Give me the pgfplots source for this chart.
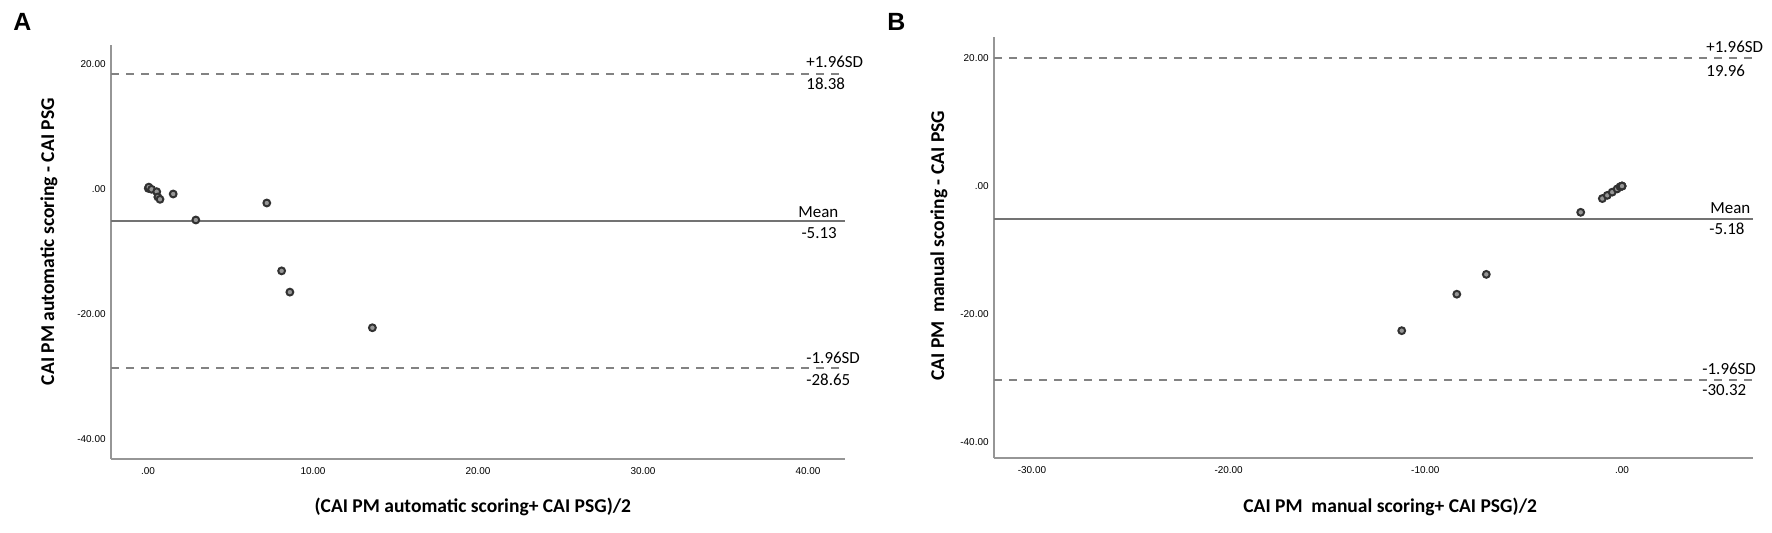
\documentclass[border=0pt]{standalone}
\usepackage{pgfplots}
\pgfplotsset{compat=1.18}
\usepackage{fontspec}
\setmainfont{Carlito}
\newfontfamily\arialfont{Liberation Sans}
\definecolor{axgray}{RGB}{150,150,150}
\definecolor{linegray}{RGB}{115,115,115}
\definecolor{dashgray}{RGB}{130,130,130}
\definecolor{markedge}{RGB}{50,50,50}
\definecolor{markfill}{RGB}{150,150,150}
\pgfplotsset{
 baplot/.style={
  scale only axis, axis lines*=left, clip=false,
  axis line style={axgray, line width=1bp},
  major tick length=0pt,
  tick label style={font=\arialfont\fontsize{5}{6}\selectfont, inner sep=0pt},
  yticklabel style={xshift=-2.5bp},
  xticklabel style={yshift=-4bp},
  label style={font=\bfseries\fontsize{9.8}{12}\selectfont},
  ytick={-40,-20,0,20}, yticklabels={-40.00,-20.00,.00,20.00},
 },
 pts/.style={only marks, mark=*, mark size=1.7bp, mark options={draw=markedge, fill=markfill, line width=1bp}},
 meanline/.style={linegray, line width=1.1bp, no marks},
 sdline/.style={dashgray, line width=1bp, dash pattern=on 4bp off 3.5bp, no marks},
}
\tikzset{ann/.style={font=\fontsize{8.5}{10}\selectfont, inner sep=0pt}}
\begin{document}
\begin{tikzpicture}
\path[use as bounding box] (0,0) rectangle (886bp,266.5bp);
% Panel A
\begin{axis}[baplot, at={(55.5bp,37bp)}, anchor=south west, width=367bp, height=207bp,
  xmin=-2.24, xmax=42.24, ymin=-43.2, ymax=23.04,
  xtick={0,10,20,30,40}, xticklabels={.00,10.00,20.00,30.00,40.00},
  xlabel={(CAI PM automatic scoring+ CAI PSG)/2},
  ylabel={CAI PM automatic scoring - CAI PSG},
  xlabel style={at={(axis description cs:0.493,-0.116)}, anchor=center},
  ylabel style={at={(axis description cs:-0.0845,0.525)}, anchor=center},
]
\addplot[sdline] coordinates {(-2.24,18.38) (42.24,18.38)};
\addplot[meanline] coordinates {(-2.24,-5.13) (42.24,-5.13)};
\addplot[sdline] coordinates {(-2.24,-28.65) (42.24,-28.65)};
\addplot[pts] coordinates {
 (0.02,0.1) (0.05,0.3) (0.22,-0.05) (0.53,-0.43) (0.6,-1.28) (0.73,-1.65)
 (1.53,-0.8) (2.9,-4.96) (7.2,-2.24) (8.1,-13.1) (8.6,-16.5) (13.6,-22.2)};
\node[ann, anchor=base west, yshift=3.3bp] at (axis cs:39.88,18.38) {+1.96SD};
\node[ann, anchor=north west, yshift=-1.5bp] at (axis cs:39.88,18.38) {18.38};
\node[ann, anchor=base west, yshift=2bp] at (axis cs:39.39,-5.13) {Mean};
\node[ann, anchor=north west, yshift=-3bp] at (axis cs:39.58,-5.13) {-5.13};
\node[ann, anchor=base west, yshift=2.5bp] at (axis cs:39.88,-28.65) {-1.96SD};
\node[ann, anchor=north west, yshift=-2.5bp] at (axis cs:39.88,-28.65) {-28.65};
\end{axis}
% Panel B
\begin{axis}[baplot, at={(497bp,37.5bp)}, anchor=south west, width=379.5bp, height=210.5bp,
  xmin=-31.93, xmax=6.66, ymin=-42.5, ymax=23.3,
  xtick={-30,-20,-10,0}, xticklabels={-30.00,-20.00,-10.00,.00},
  xlabel={CAI PM~ manual scoring+ CAI PSG)/2},
  ylabel={CAI PM~ manual scoring - CAI PSG},
  xlabel style={at={(axis description cs:0.522,-0.116)}, anchor=center},
  ylabel style={at={(axis description cs:-0.0725,0.504)}, anchor=center},
]
\addplot[sdline] coordinates {(-31.93,19.96) (6.66,19.96)};
\addplot[meanline] coordinates {(-31.93,-5.18) (6.66,-5.18)};
\addplot[sdline] coordinates {(-31.93,-30.32) (6.66,-30.32)};
\addplot[pts] coordinates {
 (-2.1,-4.1) (-1.0,-1.95) (-0.75,-1.45) (-0.5,-0.95) (-0.25,-0.45) (-0.1,-0.1)
 (0,0) (0,0) (0,0) (-6.9,-13.8) (-8.4,-16.9) (-11.2,-22.6)};
\node[ann, anchor=base west, yshift=3bp] at (axis cs:4.27,19.96) {+1.96SD};
\node[ann, anchor=north west, yshift=-3bp] at (axis cs:4.27,19.96) {19.96};
\node[ann, anchor=base west, yshift=2.8bp] at (axis cs:4.47,-5.18) {Mean};
\node[ann, anchor=north west, yshift=-1.7bp] at (axis cs:4.42,-5.18) {-5.18};
\node[ann, anchor=base west, yshift=3bp] at (axis cs:4.07,-30.32) {-1.96SD};
\node[ann, anchor=north west, yshift=-2bp] at (axis cs:4.07,-30.32) {-30.32};
\end{axis}
\node[anchor=north west, inner sep=0pt, font=\arialfont\bfseries\fontsize{12.5}{14}\selectfont] at (6.5bp,260bp) {A};
\node[anchor=north west, inner sep=0pt, font=\arialfont\bfseries\fontsize{12.5}{14}\selectfont] at (443.5bp,260bp) {B};
\end{tikzpicture}
\end{document}
